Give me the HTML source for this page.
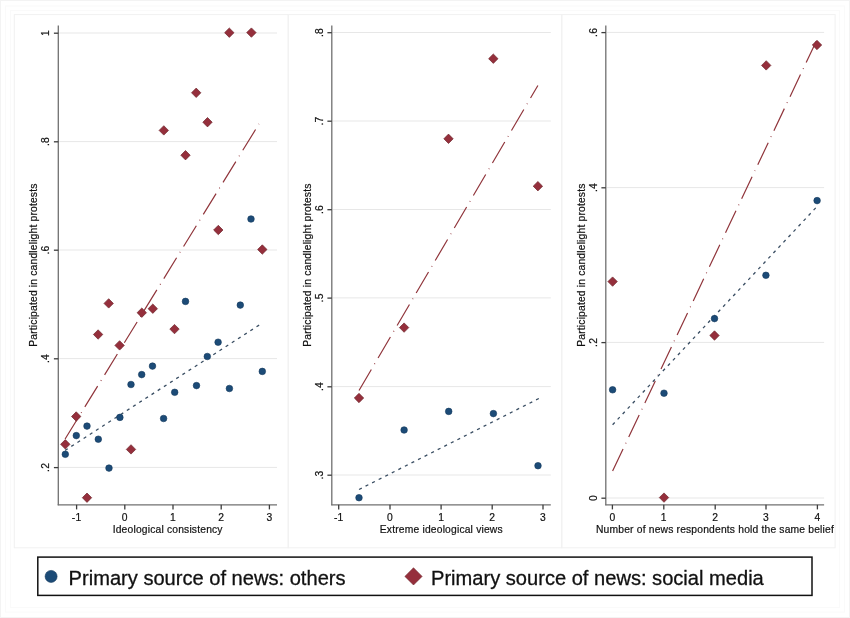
<!DOCTYPE html>
<html><head><meta charset="utf-8"><style>
html,body{margin:0;padding:0;background:#fff;}
body{width:850px;height:618px;overflow:hidden;}
svg{display:block;will-change:transform;}
text{font-family:'Liberation Sans', sans-serif;fill:#111;}
.s{font-size:10.3px;letter-spacing:0.18px;stroke:#111;stroke-width:0.2px;}
.l{font-size:20.1px;stroke:#111;stroke-width:0.3px;}
</style></head><body>
<svg width="850" height="618" viewBox="0 0 850 618">
<rect x="0" y="0" width="850" height="618" fill="#fff"/>

<rect x="0.5" y="0.5" width="849" height="617" fill="none" stroke="#f3f3f3" stroke-width="1"/>
<rect x="5.5" y="6" width="839" height="606" fill="none" stroke="#fafafa" stroke-width="1"/>
<rect x="10.5" y="10.5" width="829" height="597" fill="none" stroke="#fafafa" stroke-width="1"/>
<rect x="14.3" y="14.6" width="273.9" height="533.2" fill="none" stroke="#f1f1f1" stroke-width="1"/>
<rect x="288.2" y="14.6" width="273.6" height="533.2" fill="none" stroke="#f1f1f1" stroke-width="1"/>
<rect x="561.8" y="14.6" width="273.3" height="533.2" fill="none" stroke="#f1f1f1" stroke-width="1"/>
<line x1="59.3" y1="33.0" x2="277.0" y2="33.0" stroke="#e7e7e7" stroke-width="1"/>
<line x1="59.3" y1="141.6" x2="277.0" y2="141.6" stroke="#e7e7e7" stroke-width="1"/>
<line x1="59.3" y1="250.0" x2="277.0" y2="250.0" stroke="#e7e7e7" stroke-width="1"/>
<line x1="59.3" y1="358.6" x2="277.0" y2="358.6" stroke="#e7e7e7" stroke-width="1"/>
<line x1="59.3" y1="467.4" x2="277.0" y2="467.4" stroke="#e7e7e7" stroke-width="1"/>
<line x1="58.3" y1="25.5" x2="58.3" y2="505.3" stroke="#707070" stroke-width="1.3"/>
<line x1="57.7" y1="504.8" x2="277.0" y2="504.8" stroke="#707070" stroke-width="1.3"/>
<line x1="53.9" y1="33.2" x2="58.3" y2="33.2" stroke="#3c3c3c" stroke-width="1.3"/>
<text x="45.7" y="33.0" class="s" text-anchor="middle" transform="rotate(-90 45.7 33.0)" dy="3.8">1</text>
<line x1="53.9" y1="141.8" x2="58.3" y2="141.8" stroke="#3c3c3c" stroke-width="1.3"/>
<text x="45.7" y="141.6" class="s" text-anchor="middle" transform="rotate(-90 45.7 141.6)" dy="3.8">.8</text>
<line x1="53.9" y1="250.2" x2="58.3" y2="250.2" stroke="#3c3c3c" stroke-width="1.3"/>
<text x="45.7" y="250.0" class="s" text-anchor="middle" transform="rotate(-90 45.7 250.0)" dy="3.8">.6</text>
<line x1="53.9" y1="358.8" x2="58.3" y2="358.8" stroke="#3c3c3c" stroke-width="1.3"/>
<text x="45.7" y="358.6" class="s" text-anchor="middle" transform="rotate(-90 45.7 358.6)" dy="3.8">.4</text>
<line x1="53.9" y1="467.6" x2="58.3" y2="467.6" stroke="#3c3c3c" stroke-width="1.3"/>
<text x="45.7" y="467.4" class="s" text-anchor="middle" transform="rotate(-90 45.7 467.4)" dy="3.8">.2</text>
<line x1="76.6" y1="504.8" x2="76.6" y2="509.4" stroke="#3c3c3c" stroke-width="1.3"/>
<text x="76.6" y="521.0" class="s" text-anchor="middle">-1</text>
<line x1="124.8" y1="504.8" x2="124.8" y2="509.4" stroke="#3c3c3c" stroke-width="1.3"/>
<text x="124.8" y="521.0" class="s" text-anchor="middle">0</text>
<line x1="173.0" y1="504.8" x2="173.0" y2="509.4" stroke="#3c3c3c" stroke-width="1.3"/>
<text x="173.0" y="521.0" class="s" text-anchor="middle">1</text>
<line x1="221.2" y1="504.8" x2="221.2" y2="509.4" stroke="#3c3c3c" stroke-width="1.3"/>
<text x="221.2" y="521.0" class="s" text-anchor="middle">2</text>
<line x1="269.4" y1="504.8" x2="269.4" y2="509.4" stroke="#3c3c3c" stroke-width="1.3"/>
<text x="269.4" y="521.0" class="s" text-anchor="middle">3</text>
<text x="167.7" y="533.0" class="s" text-anchor="middle">Ideological consistency</text>
<text x="37.1" y="265.1" class="s" text-anchor="middle" transform="rotate(-90 37.1 265.1)">Participated in candlelight protests</text>
<line x1="65.1" y1="439.0" x2="259.0" y2="123.9" stroke="#90353b" stroke-width="1.2" stroke-dasharray="24.4 6.2 0.8 6.27"/>
<line x1="65.1" y1="450.4" x2="260.4" y2="324.3" stroke="#3a4e63" stroke-width="1.3" stroke-dasharray="3.1 4.25"/>
<circle cx="65.3" cy="454.3" r="3.3" fill="#1c4b77" stroke="#14395c" stroke-width="0.6"/>
<circle cx="76.3" cy="435.6" r="3.3" fill="#1c4b77" stroke="#14395c" stroke-width="0.6"/>
<circle cx="87.0" cy="426.1" r="3.3" fill="#1c4b77" stroke="#14395c" stroke-width="0.6"/>
<circle cx="98.3" cy="439.2" r="3.3" fill="#1c4b77" stroke="#14395c" stroke-width="0.6"/>
<circle cx="109.0" cy="468.1" r="3.3" fill="#1c4b77" stroke="#14395c" stroke-width="0.6"/>
<circle cx="119.9" cy="417.4" r="3.3" fill="#1c4b77" stroke="#14395c" stroke-width="0.6"/>
<circle cx="131.0" cy="384.5" r="3.3" fill="#1c4b77" stroke="#14395c" stroke-width="0.6"/>
<circle cx="141.7" cy="374.6" r="3.3" fill="#1c4b77" stroke="#14395c" stroke-width="0.6"/>
<circle cx="152.5" cy="366.1" r="3.3" fill="#1c4b77" stroke="#14395c" stroke-width="0.6"/>
<circle cx="163.6" cy="418.5" r="3.3" fill="#1c4b77" stroke="#14395c" stroke-width="0.6"/>
<circle cx="174.7" cy="392.3" r="3.3" fill="#1c4b77" stroke="#14395c" stroke-width="0.6"/>
<circle cx="185.5" cy="301.4" r="3.3" fill="#1c4b77" stroke="#14395c" stroke-width="0.6"/>
<circle cx="196.5" cy="385.6" r="3.3" fill="#1c4b77" stroke="#14395c" stroke-width="0.6"/>
<circle cx="207.3" cy="356.5" r="3.3" fill="#1c4b77" stroke="#14395c" stroke-width="0.6"/>
<circle cx="218.1" cy="342.2" r="3.3" fill="#1c4b77" stroke="#14395c" stroke-width="0.6"/>
<circle cx="229.4" cy="388.5" r="3.3" fill="#1c4b77" stroke="#14395c" stroke-width="0.6"/>
<circle cx="240.3" cy="305.1" r="3.3" fill="#1c4b77" stroke="#14395c" stroke-width="0.6"/>
<circle cx="251.0" cy="219.0" r="3.3" fill="#1c4b77" stroke="#14395c" stroke-width="0.6"/>
<circle cx="262.3" cy="371.4" r="3.3" fill="#1c4b77" stroke="#14395c" stroke-width="0.6"/>
<path d="M65.3 439.60L70.00 444.3L65.3 449.00L60.60 444.3Z" fill="#952f3c" stroke="#6e262c" stroke-width="0.7"/>
<path d="M76.2 411.80L80.90 416.5L76.2 421.20L71.50 416.5Z" fill="#952f3c" stroke="#6e262c" stroke-width="0.7"/>
<path d="M87.0 493.00L91.70 497.7L87.0 502.40L82.30 497.7Z" fill="#952f3c" stroke="#6e262c" stroke-width="0.7"/>
<path d="M98.1 329.80L102.80 334.5L98.1 339.20L93.40 334.5Z" fill="#952f3c" stroke="#6e262c" stroke-width="0.7"/>
<path d="M108.7 298.70L113.40 303.4L108.7 308.10L104.00 303.4Z" fill="#952f3c" stroke="#6e262c" stroke-width="0.7"/>
<path d="M119.6 340.70L124.30 345.4L119.6 350.10L114.90 345.4Z" fill="#952f3c" stroke="#6e262c" stroke-width="0.7"/>
<path d="M131.0 444.70L135.70 449.4L131.0 454.10L126.30 449.4Z" fill="#952f3c" stroke="#6e262c" stroke-width="0.7"/>
<path d="M141.8 308.00L146.50 312.7L141.8 317.40L137.10 312.7Z" fill="#952f3c" stroke="#6e262c" stroke-width="0.7"/>
<path d="M152.8 304.00L157.50 308.7L152.8 313.40L148.10 308.7Z" fill="#952f3c" stroke="#6e262c" stroke-width="0.7"/>
<path d="M163.8 125.70L168.50 130.4L163.8 135.10L159.10 130.4Z" fill="#952f3c" stroke="#6e262c" stroke-width="0.7"/>
<path d="M174.5 324.40L179.20 329.1L174.5 333.80L169.80 329.1Z" fill="#952f3c" stroke="#6e262c" stroke-width="0.7"/>
<path d="M185.5 150.50L190.20 155.2L185.5 159.90L180.80 155.2Z" fill="#952f3c" stroke="#6e262c" stroke-width="0.7"/>
<path d="M196.2 88.10L200.90 92.8L196.2 97.50L191.50 92.8Z" fill="#952f3c" stroke="#6e262c" stroke-width="0.7"/>
<path d="M207.5 117.50L212.20 122.2L207.5 126.90L202.80 122.2Z" fill="#952f3c" stroke="#6e262c" stroke-width="0.7"/>
<path d="M218.3 225.30L223.00 230.0L218.3 234.70L213.60 230.0Z" fill="#952f3c" stroke="#6e262c" stroke-width="0.7"/>
<path d="M229.3 28.00L234.00 32.7L229.3 37.40L224.60 32.7Z" fill="#952f3c" stroke="#6e262c" stroke-width="0.7"/>
<path d="M251.4 27.90L256.10 32.6L251.4 37.30L246.70 32.6Z" fill="#952f3c" stroke="#6e262c" stroke-width="0.7"/>
<path d="M262.3 244.80L267.00 249.5L262.3 254.20L257.60 249.5Z" fill="#952f3c" stroke="#6e262c" stroke-width="0.7"/>
<line x1="332.8" y1="32.5" x2="550.8" y2="32.5" stroke="#e7e7e7" stroke-width="1"/>
<line x1="332.8" y1="121.0" x2="550.8" y2="121.0" stroke="#e7e7e7" stroke-width="1"/>
<line x1="332.8" y1="209.5" x2="550.8" y2="209.5" stroke="#e7e7e7" stroke-width="1"/>
<line x1="332.8" y1="297.9" x2="550.8" y2="297.9" stroke="#e7e7e7" stroke-width="1"/>
<line x1="332.8" y1="386.6" x2="550.8" y2="386.6" stroke="#e7e7e7" stroke-width="1"/>
<line x1="332.8" y1="475.0" x2="550.8" y2="475.0" stroke="#e7e7e7" stroke-width="1"/>
<line x1="331.8" y1="25.5" x2="331.8" y2="505.3" stroke="#707070" stroke-width="1.3"/>
<line x1="331.2" y1="504.8" x2="550.8" y2="504.8" stroke="#707070" stroke-width="1.3"/>
<line x1="327.4" y1="32.7" x2="331.8" y2="32.7" stroke="#3c3c3c" stroke-width="1.3"/>
<text x="319.2" y="32.5" class="s" text-anchor="middle" transform="rotate(-90 319.2 32.5)" dy="3.8">.8</text>
<line x1="327.4" y1="121.2" x2="331.8" y2="121.2" stroke="#3c3c3c" stroke-width="1.3"/>
<text x="319.2" y="121.0" class="s" text-anchor="middle" transform="rotate(-90 319.2 121.0)" dy="3.8">.7</text>
<line x1="327.4" y1="209.7" x2="331.8" y2="209.7" stroke="#3c3c3c" stroke-width="1.3"/>
<text x="319.2" y="209.5" class="s" text-anchor="middle" transform="rotate(-90 319.2 209.5)" dy="3.8">.6</text>
<line x1="327.4" y1="298.1" x2="331.8" y2="298.1" stroke="#3c3c3c" stroke-width="1.3"/>
<text x="319.2" y="297.9" class="s" text-anchor="middle" transform="rotate(-90 319.2 297.9)" dy="3.8">.5</text>
<line x1="327.4" y1="386.8" x2="331.8" y2="386.8" stroke="#3c3c3c" stroke-width="1.3"/>
<text x="319.2" y="386.6" class="s" text-anchor="middle" transform="rotate(-90 319.2 386.6)" dy="3.8">.4</text>
<line x1="327.4" y1="475.2" x2="331.8" y2="475.2" stroke="#3c3c3c" stroke-width="1.3"/>
<text x="319.2" y="475.0" class="s" text-anchor="middle" transform="rotate(-90 319.2 475.0)" dy="3.8">.3</text>
<line x1="338.7" y1="504.8" x2="338.7" y2="509.4" stroke="#3c3c3c" stroke-width="1.3"/>
<text x="338.7" y="521.0" class="s" text-anchor="middle">-1</text>
<line x1="390.0" y1="504.8" x2="390.0" y2="509.4" stroke="#3c3c3c" stroke-width="1.3"/>
<text x="390.0" y="521.0" class="s" text-anchor="middle">0</text>
<line x1="441.1" y1="504.8" x2="441.1" y2="509.4" stroke="#3c3c3c" stroke-width="1.3"/>
<text x="441.1" y="521.0" class="s" text-anchor="middle">1</text>
<line x1="492.2" y1="504.8" x2="492.2" y2="509.4" stroke="#3c3c3c" stroke-width="1.3"/>
<text x="492.2" y="521.0" class="s" text-anchor="middle">2</text>
<line x1="543.0" y1="504.8" x2="543.0" y2="509.4" stroke="#3c3c3c" stroke-width="1.3"/>
<text x="543.0" y="521.0" class="s" text-anchor="middle">3</text>
<text x="441.3" y="533.0" class="s" text-anchor="middle">Extreme ideological views</text>
<text x="310.6" y="265.1" class="s" text-anchor="middle" transform="rotate(-90 310.6 265.1)">Participated in candlelight protests</text>
<line x1="359.0" y1="390.5" x2="537.9" y2="85.5" stroke="#90353b" stroke-width="1.2" stroke-dasharray="24.4 6.2 0.8 6.27"/>
<line x1="359.0" y1="489.5" x2="539.2" y2="398.3" stroke="#3a4e63" stroke-width="1.3" stroke-dasharray="3.1 4.25"/>
<circle cx="359.0" cy="497.7" r="3.3" fill="#1c4b77" stroke="#14395c" stroke-width="0.6"/>
<circle cx="404.1" cy="430.0" r="3.3" fill="#1c4b77" stroke="#14395c" stroke-width="0.6"/>
<circle cx="448.7" cy="411.4" r="3.3" fill="#1c4b77" stroke="#14395c" stroke-width="0.6"/>
<circle cx="493.4" cy="413.6" r="3.3" fill="#1c4b77" stroke="#14395c" stroke-width="0.6"/>
<circle cx="538.0" cy="465.7" r="3.3" fill="#1c4b77" stroke="#14395c" stroke-width="0.6"/>
<path d="M359.0 393.30L363.70 398.0L359.0 402.70L354.30 398.0Z" fill="#952f3c" stroke="#6e262c" stroke-width="0.7"/>
<path d="M404.1 322.90L408.80 327.6L404.1 332.30L399.40 327.6Z" fill="#952f3c" stroke="#6e262c" stroke-width="0.7"/>
<path d="M448.5 134.10L453.20 138.8L448.5 143.50L443.80 138.8Z" fill="#952f3c" stroke="#6e262c" stroke-width="0.7"/>
<path d="M493.3 54.00L498.00 58.7L493.3 63.40L488.60 58.7Z" fill="#952f3c" stroke="#6e262c" stroke-width="0.7"/>
<path d="M537.9 181.50L542.60 186.2L537.9 190.90L533.20 186.2Z" fill="#952f3c" stroke="#6e262c" stroke-width="0.7"/>
<line x1="606.8" y1="32.4" x2="824.1" y2="32.4" stroke="#e7e7e7" stroke-width="1"/>
<line x1="606.8" y1="187.6" x2="824.1" y2="187.6" stroke="#e7e7e7" stroke-width="1"/>
<line x1="606.8" y1="342.4" x2="824.1" y2="342.4" stroke="#e7e7e7" stroke-width="1"/>
<line x1="606.8" y1="498.0" x2="824.1" y2="498.0" stroke="#e7e7e7" stroke-width="1"/>
<line x1="605.8" y1="25.5" x2="605.8" y2="505.3" stroke="#707070" stroke-width="1.3"/>
<line x1="605.2" y1="504.8" x2="824.1" y2="504.8" stroke="#707070" stroke-width="1.3"/>
<line x1="601.4" y1="32.6" x2="605.8" y2="32.6" stroke="#3c3c3c" stroke-width="1.3"/>
<text x="593.2" y="32.4" class="s" text-anchor="middle" transform="rotate(-90 593.2 32.4)" dy="3.8">.6</text>
<line x1="601.4" y1="187.8" x2="605.8" y2="187.8" stroke="#3c3c3c" stroke-width="1.3"/>
<text x="593.2" y="187.6" class="s" text-anchor="middle" transform="rotate(-90 593.2 187.6)" dy="3.8">.4</text>
<line x1="601.4" y1="342.6" x2="605.8" y2="342.6" stroke="#3c3c3c" stroke-width="1.3"/>
<text x="593.2" y="342.4" class="s" text-anchor="middle" transform="rotate(-90 593.2 342.4)" dy="3.8">.2</text>
<line x1="601.4" y1="498.2" x2="605.8" y2="498.2" stroke="#3c3c3c" stroke-width="1.3"/>
<text x="593.2" y="498.0" class="s" text-anchor="middle" transform="rotate(-90 593.2 498.0)" dy="3.8">0</text>
<line x1="612.4" y1="504.8" x2="612.4" y2="509.4" stroke="#3c3c3c" stroke-width="1.3"/>
<text x="612.4" y="521.0" class="s" text-anchor="middle">0</text>
<line x1="663.8" y1="504.8" x2="663.8" y2="509.4" stroke="#3c3c3c" stroke-width="1.3"/>
<text x="663.8" y="521.0" class="s" text-anchor="middle">1</text>
<line x1="715.2" y1="504.8" x2="715.2" y2="509.4" stroke="#3c3c3c" stroke-width="1.3"/>
<text x="715.2" y="521.0" class="s" text-anchor="middle">2</text>
<line x1="766.0" y1="504.8" x2="766.0" y2="509.4" stroke="#3c3c3c" stroke-width="1.3"/>
<text x="766.0" y="521.0" class="s" text-anchor="middle">3</text>
<line x1="817.4" y1="504.8" x2="817.4" y2="509.4" stroke="#3c3c3c" stroke-width="1.3"/>
<text x="817.4" y="521.0" class="s" text-anchor="middle">4</text>
<text x="715.0" y="533.0" class="s" text-anchor="middle">Number of news respondents hold the same belief</text>
<text x="584.6" y="265.1" class="s" text-anchor="middle" transform="rotate(-90 584.6 265.1)">Participated in candlelight protests</text>
<line x1="612.6" y1="471.1" x2="816.3" y2="41.2" stroke="#90353b" stroke-width="1.2" stroke-dasharray="24.4 6.2 0.8 6.27"/>
<line x1="612.6" y1="424.7" x2="817.1" y2="206.4" stroke="#3a4e63" stroke-width="1.3" stroke-dasharray="3.1 4.25"/>
<circle cx="612.6" cy="389.8" r="3.3" fill="#1c4b77" stroke="#14395c" stroke-width="0.6"/>
<circle cx="664.0" cy="393.2" r="3.3" fill="#1c4b77" stroke="#14395c" stroke-width="0.6"/>
<circle cx="714.5" cy="318.6" r="3.3" fill="#1c4b77" stroke="#14395c" stroke-width="0.6"/>
<circle cx="765.9" cy="275.3" r="3.3" fill="#1c4b77" stroke="#14395c" stroke-width="0.6"/>
<circle cx="817.1" cy="200.6" r="3.3" fill="#1c4b77" stroke="#14395c" stroke-width="0.6"/>
<path d="M612.6 276.90L617.30 281.6L612.6 286.30L607.90 281.6Z" fill="#952f3c" stroke="#6e262c" stroke-width="0.7"/>
<path d="M664.0 492.90L668.70 497.6L664.0 502.30L659.30 497.6Z" fill="#952f3c" stroke="#6e262c" stroke-width="0.7"/>
<path d="M714.5 330.80L719.20 335.5L714.5 340.20L709.80 335.5Z" fill="#952f3c" stroke="#6e262c" stroke-width="0.7"/>
<path d="M766.2 60.70L770.90 65.4L766.2 70.10L761.50 65.4Z" fill="#952f3c" stroke="#6e262c" stroke-width="0.7"/>
<path d="M817.0 40.30L821.70 45.0L817.0 49.70L812.30 45.0Z" fill="#952f3c" stroke="#6e262c" stroke-width="0.7"/>
<rect x="37.8" y="557.1" width="774.2" height="38.3" fill="#fff" stroke="#111" stroke-width="1.5"/>
<circle cx="51.1" cy="576.4" r="6" fill="#1c4b77" stroke="#14395c" stroke-width="0.6"/>
<path d="M413.5 567.8L422.1 576.4L413.5 585L404.9 576.4Z" fill="#952f3c" stroke="#6e262c" stroke-width="0.6"/>
<text x="68.6" y="584.6" class="l">Primary source of news: others</text>
<text x="431.0" y="584.6" class="l">Primary source of news: social media</text>
</svg>
</body></html>
